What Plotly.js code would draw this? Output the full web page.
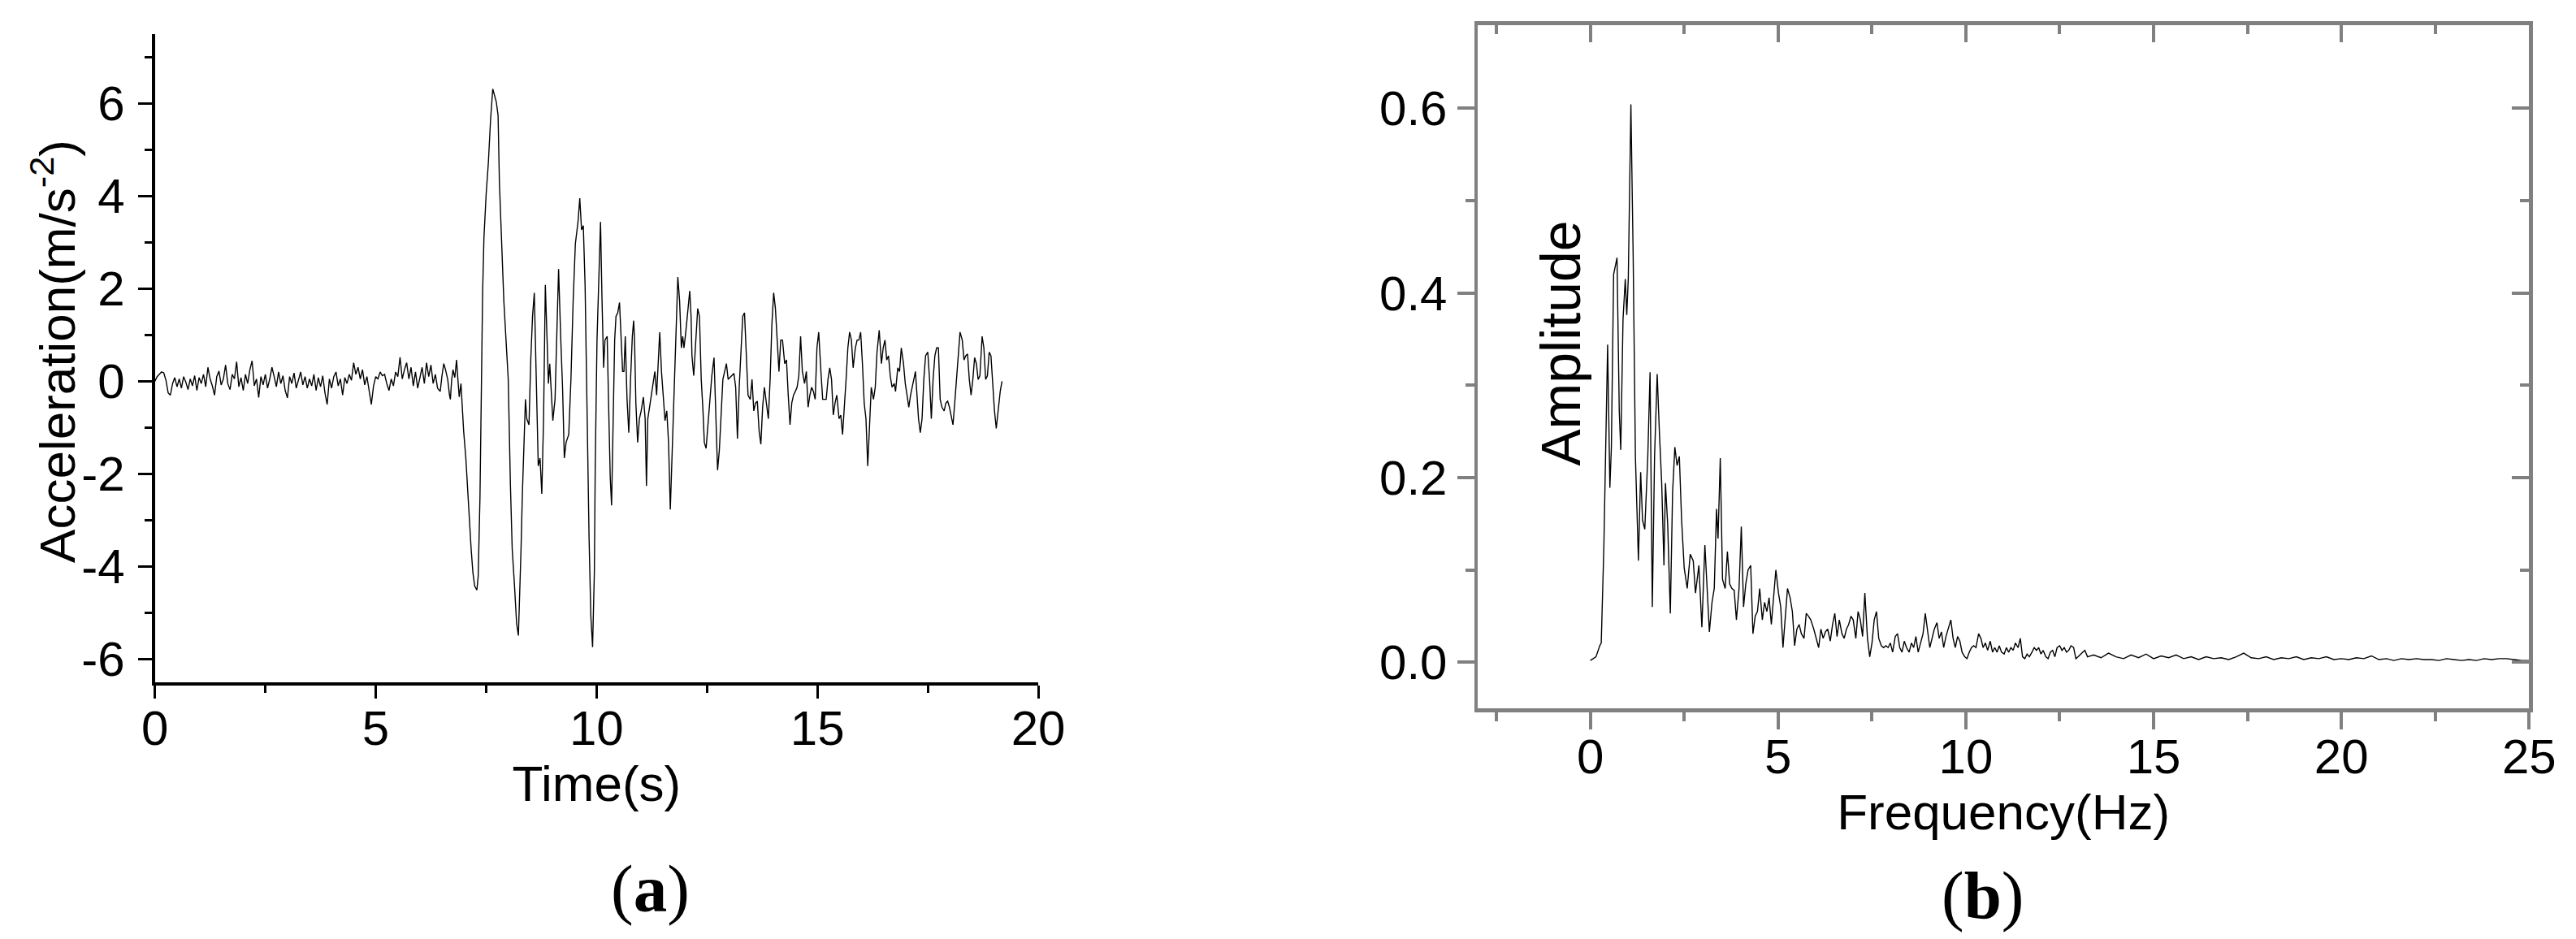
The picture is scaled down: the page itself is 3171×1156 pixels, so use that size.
<!DOCTYPE html>
<html>
<head>
<meta charset="utf-8">
<script src="https://cdn.plot.ly/plotly-3.0.1.min.js"></script>
<style>html,body{margin:0;padding:0;background:#fff;}#chart{width:3171px;height:1156px;}</style>
</head>
<body>
<div id="chart"></div>
<script>
// ---------- (a) acceleration time history ----------
const timeS = [
0.00,0.05,0.10,0.15,0.20,0.25,0.30,0.35,0.40,0.45,0.50,0.55,0.60,0.65,0.70,0.75,0.80,0.85,0.90,0.95,
1.00,1.05,1.10,1.15,1.20,1.25,1.30,1.35,1.40,1.45,1.50,1.55,1.60,1.65,1.70,1.75,1.80,1.85,1.90,1.95,
2.00,2.05,2.10,2.15,2.20,2.25,2.30,2.35,2.40,2.45,2.50,2.55,2.60,2.65,2.70,2.75,2.80,2.85,2.90,2.95,
3.00,3.05,3.10,3.15,3.20,3.25,3.30,3.35,3.40,3.45,3.50,3.55,3.60,3.65,3.70,3.75,3.80,3.85,3.90,3.95,
4.00,4.05,4.10,4.15,4.20,4.25,4.30,4.35,4.40,4.45,4.50,4.55,4.60,4.65,4.70,4.75,4.80,4.85,4.90,4.95,
5.00,5.05,5.10,5.15,5.20,5.25,5.30,5.35,5.40,5.45,5.50,5.55,5.60,5.65,5.70,5.75,5.80,5.85,5.90,5.95,
6.00,6.05,6.10,6.15,6.20,6.25,6.30,6.35,6.40,
6.46,6.50,6.54,6.58,6.63,6.67,6.69,6.72,6.75,6.79,
6.83,6.86,6.89,6.93,6.96,6.99,7.04,7.08,7.12,7.16,
7.20,7.24,7.29,7.32,7.36,7.39,7.42,7.45,7.50,7.55,
7.60,7.65,7.69,7.73,7.77,7.80,7.85,7.90,7.95,8.00,
8.05,8.09,8.14,8.19,8.23,8.26,8.29,8.32,8.36,8.39,
8.42,8.47,8.51,8.55,8.59,8.64,8.68,8.72,8.76,8.80,
8.84,8.88,8.91,8.94,8.98,9.01,9.06,9.10,9.14,9.19,
9.23,9.27,9.31,9.37,9.42,9.47,9.52,9.58,9.62,9.66,
9.70,9.74,9.78,9.83,9.87,9.91,9.95,9.97,10.01,10.05,
10.09,10.12,10.16,10.19,10.24,10.28,10.31,10.34,10.37,10.41,
10.44,10.48,10.52,10.56,10.59,10.62,10.65,10.69,10.73,10.77,
10.81,10.84,10.86,10.89,10.93,10.97,11.01,11.06,11.10,11.13,
11.16,11.20,11.24,11.28,11.32,11.36,11.39,11.43,11.47,11.51,
11.55,11.59,11.63,11.67,11.71,11.75,11.79,11.84,11.88,11.92,
11.95,11.98,12.02,12.07,12.11,12.14,12.16,12.20,12.25,12.29,
12.33,12.37,12.41,12.44,12.48,12.51,12.54,12.57,12.61,12.66,
12.70,12.74,12.78,12.82,12.86,12.90,12.94,12.98,13.02,13.07,
13.11,13.15,13.19,13.23,13.27,13.31,13.35,13.39,13.43,13.48,
13.52,13.56,13.60,13.64,13.68,13.72,13.76,13.80,13.84,13.89,
13.93,13.97,14.01,14.05,14.09,14.13,14.17,14.21,14.26,14.30,
14.34,14.38,14.42,14.46,14.50,14.54,14.58,14.62,14.66,14.71,
14.75,14.79,14.83,14.87,14.91,14.95,14.99,15.03,15.08,15.12,
15.16,15.20,15.24,15.28,15.32,15.36,15.40,15.44,15.49,15.53,
15.57,15.61,15.65,15.69,15.73,15.77,15.81,15.86,15.90,15.94,
15.98,16.02,16.06,16.10,16.14,16.18,16.22,16.27,16.31,16.35,
16.40,16.45,16.49,16.53,16.57,16.61,16.65,16.69,16.74,16.77,
16.82,16.86,16.90,16.95,16.99,17.03,17.07,17.11,17.17,17.22,
17.25,17.29,17.33,17.37,17.41,17.45,17.50,17.54,17.58,17.62,
17.66,17.70,17.74,17.78,17.82,17.87,17.91,17.95,17.99,18.03,
18.07,18.11,18.15,18.19,18.23,18.28,18.32,18.36,18.40,18.44,
18.48,18.52,18.56,18.60,18.64,18.68,18.73,18.77,18.81,18.85,
18.89,18.93,18.97,19.01,19.05,19.09,19.14,19.18
];
const accel = [
0.00,0.10,0.15,0.20,0.18,0.02,-0.25,-0.30,-0.05,0.08,-0.12,0.05,-0.15,0.10,-0.02,-0.18,0.05,-0.10,0.12,-0.20,
0.08,-0.05,0.15,-0.12,0.30,0.05,-0.10,-0.30,0.10,0.22,-0.08,0.05,0.35,-0.05,-0.18,0.15,0.05,0.42,-0.12,0.08,
-0.20,0.15,-0.05,0.25,0.44,-0.10,0.05,-0.35,0.10,-0.08,0.15,-0.15,0.05,0.30,0.10,-0.12,0.20,-0.05,0.12,-0.20,
-0.36,0.10,-0.05,0.18,-0.15,0.05,0.20,-0.08,0.10,-0.15,0.05,-0.10,0.15,-0.20,0.08,-0.12,0.12,-0.25,-0.50,0.05,
-0.15,0.10,0.20,-0.10,0.05,-0.30,0.08,-0.05,0.15,0.02,0.40,0.15,0.30,0.05,0.25,-0.08,0.10,-0.20,-0.50,-0.10,
0.10,0.05,0.20,0.12,0.15,-0.05,-0.20,0.05,-0.10,0.20,0.10,0.52,0.05,0.25,0.40,0.05,0.30,-0.10,0.20,-0.15,
0.10,0.30,-0.05,0.40,0.10,0.35,-0.05,0.15,-0.15,
-0.22,0.12,0.38,0.25,0.04,-0.30,-0.39,0.04,0.25,0.08,
0.46,0.04,-0.34,-0.05,-0.64,-1.07,-1.66,-2.34,-3.11,-3.62,
-4.13,-4.42,-4.51,-4.21,-2.51,0.04,1.91,3.10,4.04,4.72,
5.65,6.31,6.16,6.03,5.74,4.29,3.02,1.74,0.89,0.04,
-2.26,-3.62,-4.38,-5.23,-5.49,-4.64,-3.62,-2.43,-1.32,-0.39,
-0.81,-0.94,0.46,1.40,1.91,-0.30,-1.83,-1.66,-2.43,-0.81,
2.08,0.89,-0.05,0.38,-0.47,-0.85,-0.39,0.89,2.42,0.89,
-0.13,-1.66,-1.32,-1.15,0.04,1.74,2.97,3.44,3.95,3.27,
3.36,2.08,-0.64,-3.36,-5.06,-5.74,-4.13,-1.83,0.89,2.17,
3.44,1.91,0.29,0.89,0.97,-0.81,-2.09,-2.68,-0.98,0.89,
1.40,1.48,1.70,0.89,0.21,0.21,0.97,-0.39,-1.11,0.04,
0.97,1.31,0.89,-0.47,-1.32,-0.81,-0.64,-0.34,-0.81,-2.26,
-0.81,-0.56,-0.30,0.04,0.21,-0.30,0.38,1.06,0.21,-0.39,
-0.85,-0.64,-1.32,-2.77,-1.49,-0.56,0.89,2.25,1.74,0.72,
0.97,0.72,1.06,1.57,1.95,1.40,0.55,0.12,0.89,1.57,
1.40,0.04,-0.64,-1.32,-1.45,-1.07,-0.81,-0.47,0.12,0.51,
-0.81,-1.92,-1.49,-0.81,0.04,0.21,0.38,0.04,0.08,0.12,
0.17,-0.13,-1.24,-0.13,0.72,1.40,1.48,0.72,-0.30,-0.39,
0.04,-0.64,-0.47,-0.43,-1.07,-1.36,-0.56,-0.13,-0.47,-0.81,
0.04,1.23,1.91,1.57,0.89,0.21,0.89,0.89,0.38,0.46,
-0.30,-0.94,-0.47,-0.30,-0.22,-0.13,0.12,0.97,0.21,-0.05,
0.21,-0.56,-0.30,-0.13,-0.22,-0.39,0.72,1.06,0.21,-0.39,
-0.39,-0.39,0.04,0.29,0.04,-0.73,-0.47,-0.30,-0.81,-0.73,
-1.15,-0.64,0.04,0.72,1.06,0.89,0.29,0.72,0.89,0.89,
1.06,0.38,-0.47,-0.81,-1.83,-0.98,-0.13,-0.39,-0.13,0.63,
1.10,0.38,0.72,0.89,0.46,0.55,0.12,-0.13,-0.05,-0.22,
0.29,0.21,0.72,0.38,-0.05,-0.30,-0.56,-0.30,-0.05,0.21,
-0.22,-0.81,-1.11,-0.81,0.04,0.55,0.63,0.04,-0.81,0.04,
0.55,0.72,0.72,-0.39,-0.56,-0.64,-0.47,-0.43,-0.56,-0.73,
-0.94,-0.47,0.04,0.55,1.06,0.89,0.46,0.55,0.59,0.04,
-0.30,0.04,0.51,0.38,0.04,0.12,0.97,0.72,0.04,0.12,
0.63,0.55,-0.13,-0.64,-1.02,-0.64,-0.22,0.00
];
const accelTickVals = [-6,-4,-2,0,2,4,6];
const accelTickText = ['-6','-4','-2','0','2','4','6'];
const accelMinorVals = [-5,-3,-1,1,3,5,7];

// ---------- (b) Fourier amplitude spectrum ----------
const freqHz = [
0.00,0.15,0.25,0.29,0.36,0.46,0.52,0.56,0.62,0.71,
0.77,0.81,0.87,0.93,0.97,1.01,1.08,1.14,1.20,1.28,
1.34,1.39,1.45,1.53,1.59,1.65,1.71,1.78,1.84,1.90,
1.96,2.00,2.06,2.13,2.19,2.25,2.31,2.37,2.43,2.50,
2.58,2.66,2.74,2.80,2.89,2.97,3.05,3.11,3.17,3.24,
3.30,3.36,3.40,3.46,3.52,3.59,3.65,3.71,3.77,3.83,
3.89,3.96,4.02,4.08,4.14,4.20,4.27,4.33,4.39,4.45,
4.51,4.58,4.64,4.70,4.76,4.82,4.88,4.94,5.01,5.07,
5.13,5.19,5.25,5.32,5.38,5.44,5.50,5.56,5.62,5.69,
5.75,5.81,5.87,5.95,6.02,6.08,6.14,6.20,6.26,6.32,
6.39,6.45,6.51,6.57,6.63,6.70,6.76,6.82,6.88,6.94,
7.00,7.07,7.13,7.19,7.25,7.31,7.38,7.44,7.50,7.56,
7.62,7.68,7.75,7.81,7.87,7.93,7.99,8.05,8.12,8.18,
8.24,8.30,8.36,8.42,8.49,8.55,8.61,8.67,8.73,8.79,
8.86,8.92,8.98,9.04,9.10,9.16,9.23,9.29,9.35,9.41,
9.47,9.53,9.60,9.66,9.72,9.78,9.84,9.90,9.97,10.03,
10.09,10.15,10.21,10.27,10.34,10.40,10.46,10.52,10.58,10.65,
10.71,10.77,10.83,10.89,10.95,11.02,11.08,11.14,11.20,11.26,
11.32,11.39,11.45,11.51,11.57,11.63,11.69,11.76,11.82,11.88,
11.94,12.00,12.06,12.13,12.19,12.25,12.31,12.37,12.43,12.50,
12.56,12.62,12.68,12.74,12.80,12.87,12.93,12.99,13.05,13.11,
13.17,13.24,13.40,13.60,13.80,14.00,14.20,14.40,14.60,14.80,
15.00,15.20,15.40,15.60,15.80,16.00,16.20,16.40,16.60,16.80,
17.00,17.20,17.40,17.60,17.80,18.00,18.20,18.40,18.60,18.80,
19.00,19.20,19.40,19.60,19.80,20.00,20.20,20.40,20.60,20.80,
21.00,21.20,21.40,21.60,21.80,22.00,22.20,22.40,22.60,22.80,
23.00,23.20,23.40,23.60,23.80,24.00,24.20,24.40,24.60,24.80,
25.00
];
const amplitude = [
0.002,0.006,0.018,0.021,0.125,0.344,0.189,0.233,0.420,0.438,
0.272,0.230,0.371,0.415,0.376,0.415,0.604,0.440,0.223,0.110,
0.206,0.154,0.144,0.223,0.314,0.060,0.223,0.312,0.248,0.194,
0.105,0.194,0.149,0.053,0.184,0.233,0.213,0.223,0.154,0.102,
0.080,0.117,0.110,0.075,0.105,0.038,0.127,0.075,0.033,0.065,
0.080,0.166,0.134,0.221,0.090,0.080,0.120,0.085,0.080,0.078,
0.046,0.080,0.147,0.060,0.085,0.100,0.105,0.031,0.050,0.055,
0.080,0.046,0.065,0.055,0.070,0.041,0.075,0.100,0.075,0.060,
0.016,0.046,0.080,0.070,0.055,0.018,0.036,0.041,0.031,0.026,
0.053,0.050,0.046,0.036,0.026,0.016,0.036,0.026,0.033,0.036,
0.023,0.041,0.053,0.028,0.046,0.031,0.026,0.036,0.041,0.050,
0.046,0.026,0.055,0.046,0.028,0.075,0.026,0.006,0.021,0.046,
0.055,0.026,0.018,0.016,0.018,0.016,0.021,0.011,0.028,0.031,
0.016,0.011,0.023,0.016,0.011,0.021,0.016,0.028,0.011,0.021,
0.031,0.053,0.036,0.016,0.026,0.036,0.043,0.026,0.033,0.016,
0.028,0.036,0.046,0.026,0.016,0.028,0.023,0.011,0.006,0.004,
0.011,0.016,0.018,0.016,0.031,0.026,0.016,0.021,0.013,0.023,
0.011,0.016,0.011,0.018,0.011,0.009,0.016,0.011,0.016,0.013,
0.021,0.016,0.026,0.006,0.004,0.009,0.006,0.011,0.016,0.013,
0.016,0.009,0.013,0.006,0.004,0.011,0.013,0.006,0.016,0.018,
0.013,0.016,0.011,0.013,0.018,0.016,0.004,0.006,0.009,0.011,
0.013,0.006,0.008,0.005,0.010,0.006,0.004,0.008,0.005,0.009,
0.004,0.007,0.005,0.008,0.004,0.006,0.003,0.006,0.004,0.005,
0.003,0.006,0.010,0.005,0.004,0.006,0.003,0.005,0.004,0.006,
0.003,0.005,0.004,0.006,0.003,0.004,0.003,0.005,0.004,0.007,
0.003,0.004,0.002,0.004,0.003,0.004,0.003,0.003,0.002,0.004,
0.003,0.002,0.003,0.002,0.004,0.003,0.004,0.004,0.003,0.002,
0.002
];

const SANS = 'Liberation Sans, Arial, Helvetica, sans-serif';
const SERIF = 'Liberation Serif, Times New Roman, serif';
const GRAY = '#808080';

const traces = [
  {x: timeS, y: accel, type: 'scatter', mode: 'lines', xaxis: 'x', yaxis: 'y',
   line: {color: '#000', width: 1.4}, hoverinfo: 'skip', showlegend: false},
  {x: freqHz, y: amplitude, type: 'scatter', mode: 'lines', xaxis: 'x2', yaxis: 'y2',
   line: {color: '#000', width: 1.4}, hoverinfo: 'skip', showlegend: false},
  {x: [], y: [], type: 'scatter', mode: 'lines', xaxis: 'x3', yaxis: 'y3',
   hoverinfo: 'skip', showlegend: false}
];

const layout = {
  width: 3171, height: 1156,
  margin: {l: 0, r: 0, t: 0, b: 0},
  paper_bgcolor: '#fff', plot_bgcolor: '#fff',
  showlegend: false,
  font: {family: SANS, size: 60, color: '#000'},
  xaxis: {
    domain: [0.06014, 0.40303], anchor: 'y', range: [0, 20],
    tickmode: 'linear', tick0: 0, dtick: 5,
    ticks: 'outside', ticklen: 16, tickwidth: 3, tickcolor: '#000',
    minor: {tick0: 0, dtick: 2.5, ticks: 'outside', ticklen: 9, tickwidth: 3, tickcolor: '#000', showgrid: false},
    showline: true, linewidth: 4, linecolor: '#000',
    showgrid: false, zeroline: false,
    ticklabelstandoff: -15,
    tickfont: {family: SANS, size: 60, color: '#000'},
    title: {text: 'Time(s)', font: {family: SANS, size: 62, color: '#000'}, standoff: 11}
  },
  yaxis: {
    domain: [0.27336, 0.96393], anchor: 'x', range: [-6.5, 7.5],
    tickmode: 'array', tickvals: accelTickVals, ticktext: accelTickText,
    ticks: 'outside', ticklen: 17, tickwidth: 3, tickcolor: '#000',
    minor: {tickmode: 'array', tickvals: accelMinorVals, ticks: 'outside', ticklen: 9, tickwidth: 3, tickcolor: '#000', showgrid: false},
    showline: true, linewidth: 4, linecolor: '#000',
    showgrid: false, zeroline: false,
    ticklabelstandoff: 4,
    tickfont: {family: SANS, size: 60, color: '#000'}
  },
  xaxis2: {
    domain: [0.57364, 0.98180], anchor: 'y2', range: [-3, 25],
    tickmode: 'linear', tick0: 0, dtick: 5,
    ticks: 'outside', ticklen: 21, tickwidth: 4, tickcolor: GRAY,
    minor: {tick0: 0, dtick: 2.5, ticks: 'outside', ticklen: 11, tickwidth: 4, tickcolor: GRAY, showgrid: false},
    showline: true, linewidth: 4.5, linecolor: GRAY,
    showgrid: false, zeroline: false,
    ticklabelstandoff: -18,
    tickfont: {family: SANS, size: 60, color: '#000'},
    title: {text: 'Frequency(Hz)', font: {family: SANS, size: 62, color: '#000'}, standoff: 6}
  },
  yaxis2: {
    domain: [0.24542, 0.97344], anchor: 'x2', range: [-0.05, 0.69],
    tickmode: 'linear', tick0: 0, dtick: 0.2, tickformat: '.1f',
    ticks: 'outside', ticklen: 21, tickwidth: 4, tickcolor: GRAY,
    minor: {tick0: 0, dtick: 0.1, ticks: 'outside', ticklen: 11, tickwidth: 4, tickcolor: GRAY, showgrid: false},
    showline: true, linewidth: 4.5, linecolor: GRAY,
    showgrid: false, zeroline: false,
    tickfont: {family: SANS, size: 60, color: '#000'}
  },
  xaxis3: {
    overlaying: 'x2', anchor: 'y2', side: 'top', range: [-3, 25],
    tickmode: 'linear', tick0: 0, dtick: 5,
    ticks: 'inside', ticklen: 21, tickwidth: 4, tickcolor: GRAY,
    minor: {tick0: 0, dtick: 2.5, ticks: 'inside', ticklen: 11, tickwidth: 4, tickcolor: GRAY, showgrid: false},
    showline: true, linewidth: 4.5, linecolor: GRAY,
    showticklabels: false, showgrid: false, zeroline: false
  },
  yaxis3: {
    overlaying: 'y2', anchor: 'x2', side: 'right', range: [-0.05, 0.69],
    tickmode: 'linear', tick0: 0, dtick: 0.2,
    ticks: 'inside', ticklen: 21, tickwidth: 4, tickcolor: GRAY,
    minor: {tick0: 0, dtick: 0.1, ticks: 'inside', ticklen: 11, tickwidth: 4, tickcolor: GRAY, showgrid: false},
    showline: true, linewidth: 4.5, linecolor: GRAY,
    showticklabels: false, showgrid: false, zeroline: false
  },
  annotations: [
    {text: 'Acceleration(m/s<sup>-2</sup>)', xref: 'paper', yref: 'paper', x: 0.0208, y: 0.6263, textangle: -90,
     showarrow: false, xanchor: 'center', yanchor: 'middle',
     font: {family: SANS, size: 62, color: '#000'}},
    {text: 'Amplitude', xref: 'x2', yref: 'y2', x: -0.8, y: 0.345, textangle: -90,
     showarrow: false, xanchor: 'center', yanchor: 'middle',
     font: {family: SANS, size: 68, color: '#000'}},
    {text: '(<b>a</b>)', xref: 'paper', yref: 'paper', x: 0.2523, y: 0.0536,
     showarrow: false, xanchor: 'center', yanchor: 'middle',
     font: {family: SERIF, size: 83, color: '#000'}},
    {text: '(<b>b</b>)', xref: 'paper', yref: 'paper', x: 0.7695, y: 0.0467,
     showarrow: false, xanchor: 'center', yanchor: 'middle',
     font: {family: SERIF, size: 83, color: '#000'}}
  ]
};

Plotly.newPlot('chart', traces, layout, {staticPlot: true, displayModeBar: false});
</script>
</body>
</html>
